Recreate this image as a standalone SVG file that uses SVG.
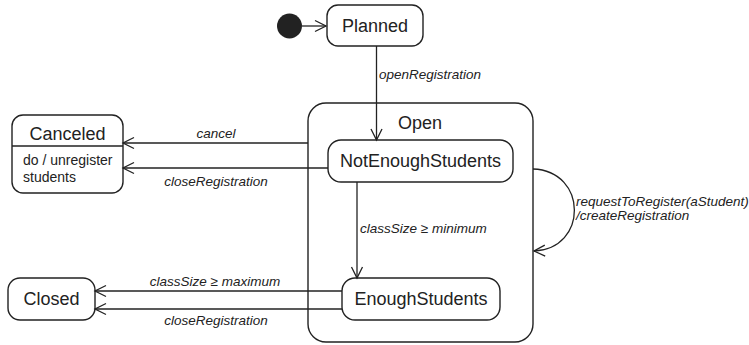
<svg xmlns="http://www.w3.org/2000/svg" width="749" height="345" viewBox="0 0 749 345">
  <defs>
    <marker id="arr" markerUnits="userSpaceOnUse" markerWidth="14" markerHeight="14" viewBox="0 0 14 14" refX="12" refY="7" orient="auto">
      <path d="M1,1.5 L12,7 L1,12.5" fill="none" stroke="#222" stroke-width="1.3"/>
    </marker>
  </defs>
  <style>
    .box { fill: #fff; stroke: #222; stroke-width: 1.4; }
    .name { font-family: "Liberation Sans", Arial, sans-serif; font-size: 18px; fill: #222; text-anchor: middle; }
    .body { font-family: "Liberation Sans", Arial, sans-serif; font-size: 14px; fill: #222; }
    .lbl { font-family: "Liberation Sans", Arial, sans-serif; font-size: 13.5px; font-style: italic; fill: #222; }
    .conn { stroke: #222; stroke-width: 1.3; fill: none; marker-end: url(#arr); }
  </style>
  <rect width="749" height="345" fill="#fff"/>

  <g id="open">
    <rect class="box" x="308" y="103" width="225" height="239" rx="18"/>
    <text class="name" x="420" y="129">Open</text>
  </g>

  <g id="initial">
    <circle cx="289.5" cy="26" r="12.5" fill="#222"/>
  </g>

  <g id="planned">
    <rect class="box" x="327" y="5" width="96" height="41" rx="11"/>
    <text class="name" x="375" y="32">Planned</text>
  </g>

  <g id="notEnoughStudents">
    <rect class="box" x="328" y="140" width="185" height="42" rx="13"/>
    <text class="name" x="420.5" y="167">NotEnoughStudents</text>
  </g>

  <g id="enoughStudents">
    <rect class="box" x="342" y="278" width="158" height="42" rx="13"/>
    <text class="name" x="421" y="305">EnoughStudents</text>
  </g>

  <g id="canceled">
    <rect class="box" x="12" y="115" width="111" height="78" rx="11"/>
    <line x1="12" y1="146" x2="123" y2="146" stroke="#222" stroke-width="1.4"/>
    <text class="name" x="67.5" y="140">Canceled</text>
    <text class="body" x="23" y="165">do / unregister</text>
    <text class="body" x="23" y="182">students</text>
  </g>

  <g id="closed">
    <rect class="box" x="8" y="278" width="87" height="42" rx="12"/>
    <text class="name" x="51.5" y="305">Closed</text>
  </g>

  <g id="connectors">
    <line class="conn" x1="302" y1="26" x2="326" y2="26"/>
    <line class="conn" x1="376.5" y1="46" x2="376.5" y2="140"/>
    <text class="lbl" x="379" y="79">openRegistration</text>

    <line class="conn" x1="308" y1="143" x2="123" y2="143"/>
    <text class="lbl" x="216" y="138" text-anchor="middle">cancel</text>

    <line class="conn" x1="328" y1="168" x2="123" y2="168"/>
    <text class="lbl" x="216" y="186" text-anchor="middle">closeRegistration</text>

    <line class="conn" x1="357" y1="182" x2="357" y2="278"/>
    <text class="lbl" x="360" y="233">classSize ≥ minimum</text>

    <line class="conn" x1="342" y1="291" x2="95" y2="291"/>
    <text class="lbl" x="215" y="286" text-anchor="middle">classSize ≥ maximum</text>

    <line class="conn" x1="342" y1="309" x2="95" y2="309"/>
    <text class="lbl" x="216" y="325" text-anchor="middle">closeRegistration</text>

    <path class="conn" d="M533,169 C588,171 588,249 534,251"/>
    <text class="lbl" x="576" y="206" font-size="13">requestToRegister(aStudent)</text>
    <text class="lbl" x="576" y="220" font-size="13">/createRegistration</text>
  </g>
</svg>
